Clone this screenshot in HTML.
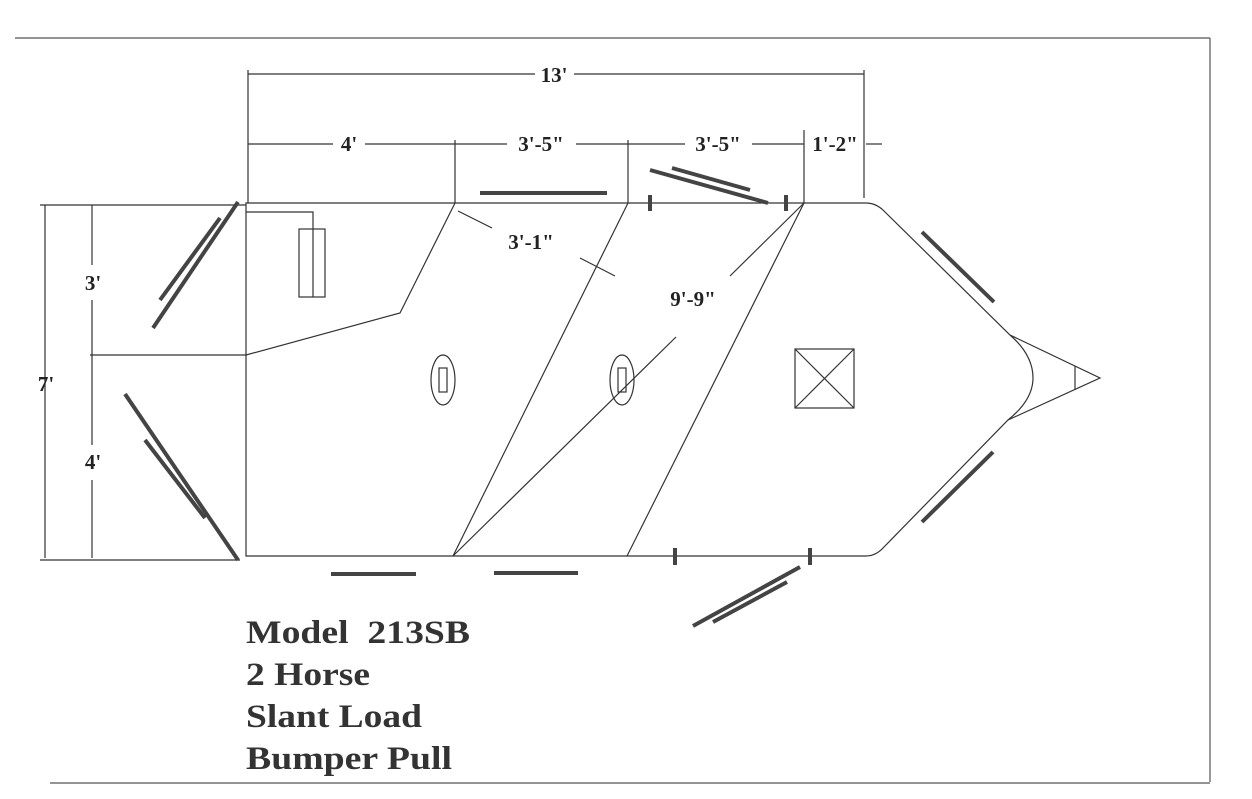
<!DOCTYPE html>
<html><head><style>body{margin:0;background:#fff}svg{display:block}</style></head><body>
<svg width="1252" height="799" xmlns="http://www.w3.org/2000/svg" font-family="Liberation Serif, serif" font-weight="bold">
<rect width="1252" height="799" fill="#fff"/>
<g stroke="#555" stroke-width="1.2" fill="none">
<line x1="15" y1="38" x2="1210" y2="38"/>
<line x1="1210" y1="38" x2="1210" y2="782"/>
<line x1="50" y1="783" x2="1210" y2="783"/>
</g>
<g stroke="#333" stroke-width="1.2" fill="none">
<path d="M246 203 H866 Q876 203 884 211 L1010 335 Q1033 355 1033 378 Q1033 400 1008 420 L884 547 Q876 556 866 556 H246 Z"/>
<path d="M1010 335 L1100 378 L1008 420"/>
<line x1="1075" y1="366" x2="1075" y2="390"/>
<line x1="248" y1="70" x2="248" y2="203"/>
<line x1="864" y1="70" x2="864" y2="198"/>
<line x1="248" y1="74" x2="535" y2="74"/><line x1="574" y1="74" x2="864" y2="74"/>
<line x1="455" y1="140" x2="455" y2="203"/>
<line x1="628" y1="140" x2="628" y2="203"/>
<line x1="804" y1="130" x2="804" y2="203"/>
<line x1="248" y1="144" x2="333" y2="144"/><line x1="365" y1="144" x2="455" y2="144"/>
<line x1="455" y1="144" x2="507" y2="144"/><line x1="576" y1="144" x2="628" y2="144"/>
<line x1="628" y1="144" x2="685" y2="144"/><line x1="752" y1="144" x2="804" y2="144"/>
<line x1="866" y1="144" x2="882" y2="144"/>
<path d="M455 203 L400 313 L246 355"/>
<line x1="628" y1="203" x2="453" y2="556"/>
<line x1="804" y1="203" x2="627" y2="556"/>
<line x1="804" y1="203" x2="730" y2="276"/>
<line x1="676" y1="337" x2="453" y2="556"/>
<line x1="458" y1="211" x2="492" y2="228"/>
<line x1="580" y1="258" x2="615" y2="276"/>
<line x1="45" y1="205" x2="45" y2="558"/>
<line x1="40" y1="205" x2="246" y2="205"/>
<line x1="40" y1="560" x2="240" y2="560"/>
<line x1="92" y1="205" x2="92" y2="265"/><line x1="92" y1="300" x2="92" y2="445"/><line x1="92" y1="480" x2="92" y2="558"/>
<line x1="90" y1="355" x2="246" y2="355"/>
<path d="M246 212 H313 V229"/>
<rect x="299" y="229" width="26" height="68"/>
<line x1="313" y1="229" x2="313" y2="297"/>
<ellipse cx="443" cy="380" rx="12" ry="25"/>
<rect x="439" y="368" width="8" height="24"/>
<ellipse cx="622" cy="380" rx="12" ry="25"/>
<rect x="618" y="368" width="8" height="24"/>
<rect x="795" y="349" width="59" height="59"/>
<line x1="795" y1="349" x2="854" y2="408"/><line x1="854" y1="349" x2="795" y2="408"/>
</g>
<g stroke="#444" stroke-width="4" fill="none">
<line x1="238" y1="202" x2="153" y2="328"/><line x1="220" y1="218" x2="160" y2="300"/>
<line x1="125" y1="394" x2="238" y2="560"/><line x1="145" y1="440" x2="205" y2="518"/>
<line x1="480" y1="193" x2="607" y2="193"/>
<line x1="650" y1="170" x2="768" y2="203"/><line x1="672" y1="168" x2="750" y2="190"/>
<line x1="650" y1="195" x2="650" y2="211"/><line x1="786" y1="195" x2="786" y2="211"/>
<line x1="675" y1="548" x2="675" y2="565"/><line x1="810" y1="548" x2="810" y2="565"/>
<line x1="331" y1="574" x2="416" y2="574"/><line x1="494" y1="573" x2="578" y2="573"/>
<line x1="693" y1="626" x2="800" y2="567"/><line x1="713" y1="622" x2="787" y2="582"/>
<line x1="922" y1="232" x2="994" y2="302"/><line x1="922" y1="522" x2="993" y2="452"/>
</g>
<g fill="#222" font-size="21" text-anchor="middle">
<text x="554" y="82">13'</text>
<text x="349" y="151">4'</text>
<text x="541" y="151">3'-5"</text>
<text x="718" y="151">3'-5"</text>
<text x="835" y="151">1'-2"</text>
<text x="531" y="249">3'-1"</text>
<text x="693" y="306">9'-9"</text>
<text x="93" y="290">3'</text>
<text x="46" y="391">7'</text>
<text x="93" y="469">4'</text>
</g>
<g fill="#333" font-size="33">
<text x="246" y="643" textLength="224" lengthAdjust="spacingAndGlyphs">Model&#160;&#160;213SB</text>
<text x="246" y="685" textLength="124" lengthAdjust="spacingAndGlyphs">2 Horse</text>
<text x="246" y="727" textLength="176" lengthAdjust="spacingAndGlyphs">Slant Load</text>
<text x="246" y="769" textLength="206" lengthAdjust="spacingAndGlyphs">Bumper Pull</text>
</g>
</svg>
</body></html>
